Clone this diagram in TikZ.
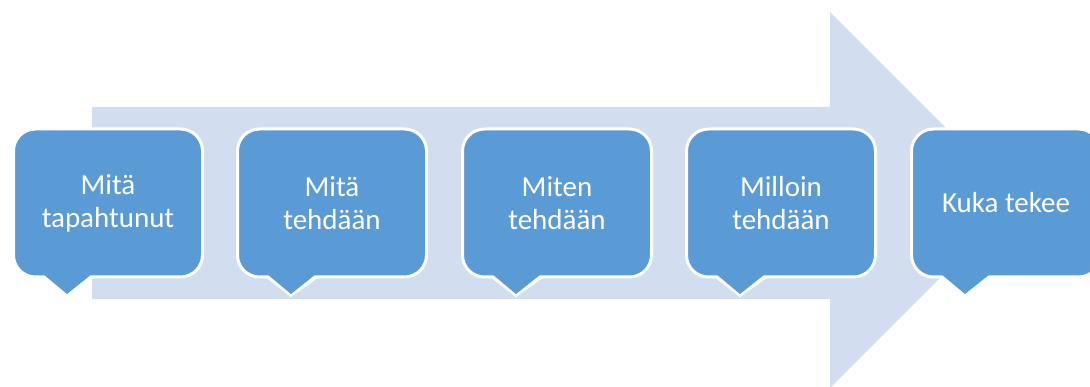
\documentclass[tikz,border=0pt]{standalone}
\usepackage{fontspec}
\setmainfont{Carlito}
\definecolor{arrowbg}{HTML}{D2DEEF}
\definecolor{boxblue}{HTML}{5B9BD5}
\begin{document}
\begin{tikzpicture}[x=1pt,y=-1pt,
  box/.style={rounded corners=22pt, fill=boxblue, draw=white, line width=3pt,
    minimum width=189pt, minimum height=148pt, inner sep=0pt,
    text=white, align=center, font=\fontsize{29}{33}\selectfont},
  tipborder/.style={draw=white, line width=5pt, line join=miter},
  tipfill/.style={fill=boxblue}]
\useasboundingbox (0,0) rectangle (1090,387);
\clip (0,0) rectangle (1090,387);
% big arrow
\fill[arrowbg] (92,107) -- (830,107) -- (830,12) -- (1018,200) -- (830,388) -- (830,299) -- (92,299) -- cycle;
% callouts
\foreach \i/\cx/\txt in {1/108/{Mitä\\tapahtunut},2/332/{Mitä\\tehdään},3/557/{Miten\\tehdään},4/781/{Milloin\\tehdään},5/1006/{Kuka tekee}}{
  \draw[tipborder] (\cx-64,276) -- (\cx-41,294) -- (\cx-16,276);
  \node[box] (b\i) at (\cx,203) {\txt};
  \fill[tipfill] (\cx-65,274) -- (\cx-16,274) -- (\cx-41,294) -- cycle;
}
\end{tikzpicture}
\end{document}
